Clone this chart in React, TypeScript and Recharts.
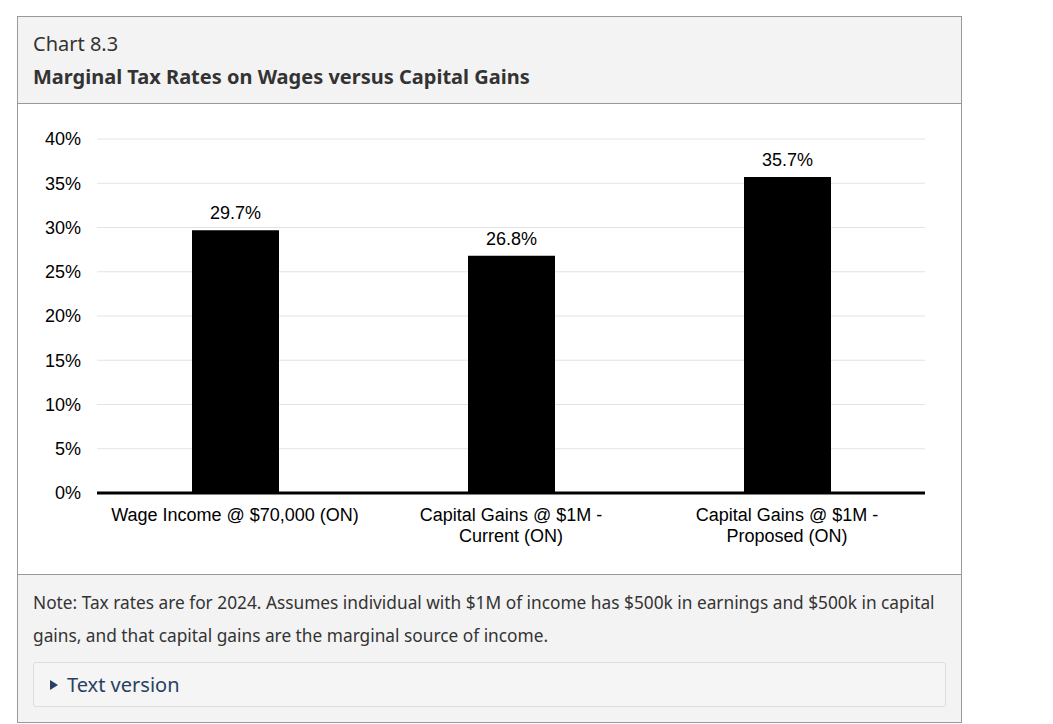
import { BarChart, Bar, XAxis, YAxis, CartesianGrid, LabelList } from "recharts";

// Categories (line breaks are drawn as separate tspans)
const categories = [
  "Wage Income @ $70,000 (ON)",
  "Capital Gains @ $1M -\nCurrent (ON)",
  "Capital Gains @ $1M -\nProposed (ON)",
];
const rates = [29.7, 26.8, 35.7];
const yTicks = [0, 5, 10, 15, 20, 25, 30, 35, 40];

const data = categories.map((name, i) => ({ name, rate: rates[i] }));

const chartFont = '"Liberation Sans", Arial, sans-serif';
const pageFont = '"Noto Sans", "Open Sans", sans-serif';

function CategoryTick(props: any) {
  const { x, y, payload } = props;
  const lines = String(payload.value).split("\n");
  return (
    <text x={x} y={y} textAnchor="middle" fill="#000" fontSize={18} fontFamily={chartFont}>
      {lines.map((line, i) => (
        <tspan key={i} x={x} dy={i === 0 ? 28 : 21}>
          {line}
        </tspan>
      ))}
    </text>
  );
}

export default function App() {
  return (
    <div
      style={{
        position: "absolute",
        left: 17,
        top: 16,
        width: 945,
        height: 707,
        boxSizing: "border-box",
        border: "1px solid #999",
        fontFamily: pageFont,
        color: "#333",
      }}
    >
      <div
        style={{
          position: "absolute",
          left: 0,
          top: 0,
          width: 943,
          height: 86,
          background: "#f3f3f3",
          borderBottom: "1px solid #999",
        }}
      >
        <div style={{ position: "absolute", left: 15, top: 17, fontSize: 20, lineHeight: "20px" }}>Chart 8.3</div>
        <div style={{ position: "absolute", left: 15, top: 50, fontSize: 20, lineHeight: "20px", fontWeight: 700 }}>
          Marginal Tax Rates on Wages versus Capital Gains
        </div>
      </div>

      <div style={{ position: "absolute", left: 0, top: 87, width: 943, height: 470, background: "#fff" }}>
        <BarChart width={943} height={470} data={data} margin={{ top: 35, right: 36, left: 0, bottom: 0 }}>
          <CartesianGrid vertical={false} stroke="#e3e3e3" />
          <XAxis
            dataKey="name"
            height={81}
            tickLine={false}
            tickSize={0}
            tickMargin={0}
            interval={0}
            axisLine={{ stroke: "#000", strokeWidth: 3 }}
            tick={<CategoryTick />}
          />
          <YAxis
            width={79}
            domain={[0, 40]}
            ticks={yTicks}
            tickFormatter={(v: number) => `${v}%`}
            axisLine={false}
            tickLine={false}
            tickSize={0}
            tickMargin={16}
            tick={{ fill: "#000", fontSize: 18, fontFamily: chartFont }}
          />
          <Bar dataKey="rate" fill="#000" barSize={87} isAnimationActive={false}>
            <LabelList
              dataKey="rate"
              position="top"
              offset={11}
              formatter={(v: any) => `${Number(v).toFixed(1)}%`}
              style={{ fill: "#000", fontSize: 18, fontFamily: chartFont }}
            />
          </Bar>
        </BarChart>
      </div>

      <div
        style={{
          position: "absolute",
          left: 0,
          top: 557,
          width: 943,
          height: 147,
          background: "#f3f3f3",
          borderTop: "1px solid #999",
        }}
      >
        <div style={{ position: "absolute", left: 15, top: 11, width: 915, fontSize: 17.3, lineHeight: "33px" }}>
          Note: Tax rates are for 2024. Assumes individual with $1M of income has $500k in earnings and $500k in capital
          gains, and that capital gains are the marginal source of income.
        </div>
        <div
          style={{
            position: "absolute",
            left: 15,
            top: 87,
            width: 913,
            height: 45,
            boxSizing: "border-box",
            border: "1px solid #ddd",
            borderRadius: 3,
            background: "#f5f5f5",
          }}
        >
          <span
            style={{
              position: "absolute",
              left: 16,
              top: 17,
              width: 0,
              height: 0,
              borderLeft: "8px solid #284162",
              borderTop: "5px solid transparent",
              borderBottom: "5px solid transparent",
            }}
          />
          <div style={{ position: "absolute", left: 33, top: 12, fontSize: 20, lineHeight: "20px", color: "#284162" }}>
            Text version
          </div>
        </div>
      </div>
    </div>
  );
}
